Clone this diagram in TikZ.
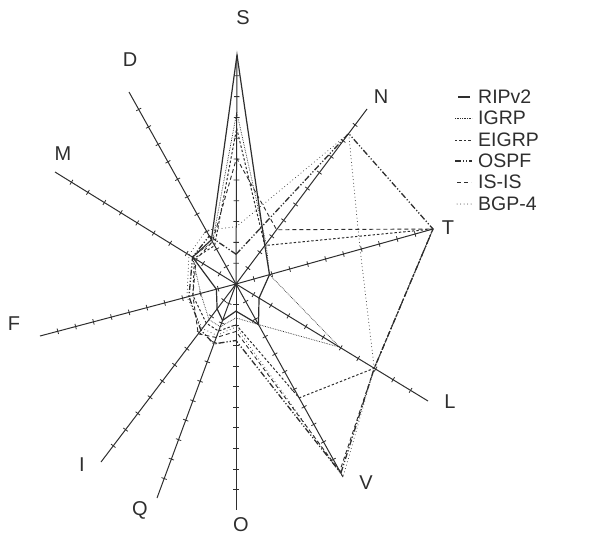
\documentclass[tikz,border=0pt]{standalone}
\usepackage{fontspec}
\setmainfont{Liberation Sans}
\usetikzlibrary{calc}
\definecolor{ink}{HTML}{2E2E2E}
\tikzset{
  axisline/.style={draw=ink, line width=1pt},
  tickline/.style={draw=ink, line width=0.8pt},
  lab/.style={font=\fontsize{20}{22}\selectfont, text=ink, inner sep=0pt},
  legtext/.style={font=\fontsize{19.5}{21}\selectfont, text=ink, anchor=west, inner sep=0pt},
  rip/.style={draw=ink, line width=1.2pt},
  igrp/.style={draw=ink, line width=0.7pt, dash pattern=on 0.7pt off 1pt},
  eigrp/.style={draw=ink, line width=1pt, dash pattern=on 2.4pt off 2pt},
  ospf/.style={draw=ink, line width=1.3pt, dash pattern=on 6pt off 2pt on 1.2pt off 2pt on 1.2pt off 2pt},
  isis/.style={draw=ink, line width=0.9pt, dash pattern=on 4pt off 3pt},
  bgp/.style={draw=ink, line width=1pt, line cap=round, dash pattern=on 0pt off 3.5pt},
}
\newcommand\radarseries[3]{%
  \foreach \ax/\f [count=\i] in {#3} {\coordinate (#1\i) at ($(C)!\f!(\ax)$);}
  \draw[#2] (#11) -- (#12) -- (#13) -- (#14) -- (#15) -- (#16) -- (#17) -- (#18) -- (#19) -- (#110) -- (#111) -- cycle;
}
\begin{document}
\begin{tikzpicture}[x=1pt,y=-1pt]
\useasboundingbox (0,0) rectangle (599,536);
\coordinate (C) at (236,284);
\coordinate (S) at (237,55);
\coordinate (N) at (367,109);
\coordinate (T) at (433,229);
\coordinate (L) at (428,401);
\coordinate (V) at (343,477);
\coordinate (O) at (236,510);
\coordinate (Q) at (157,498);
\coordinate (I) at (101,462);
\coordinate (F) at (40,336);
\coordinate (M) at (55,172);
\coordinate (D) at (129,92);
% axes with ticks
\foreach \a in {S,N,T,L,V,O,Q,I,F,M,D} {
  \draw[axisline] (C) -- (\a);
  \foreach \k in {1,...,10} {
    \coordinate (tk) at ($(C)!\k/11!(\a)$);
    \draw[tickline] ($(tk)!2.8pt!90:(\a)$) -- ($(tk)!2.8pt!-90:(\a)$);
  }
}
% series
\radarseries{r}{rip}{S/1.0,N/0.22,T/0.17,L/0.12,V/0.21,O/0.12,Q/0.17,I/0.14,F/0.10,M/0.24,D/0.23}
\radarseries{g}{igrp}{S/0.75,N/0.23,T/0.17,L/0.54,V/0.21,O/0.15,Q/0.20,I/0.20,F/0.18,M/0.24,D/0.22}
\radarseries{e}{eigrp}{S/0.68,N/0.22,T/1.0,L/0.72,V/0.59,O/0.18,Q/0.22,I/0.22,F/0.22,M/0.23,D/0.20}
\radarseries{o}{ospf}{S/0.13,N/0.86,T/1.0,L/0.72,V/0.98,O/0.25,Q/0.28,I/0.26,F/0.24,M/0.24,D/0.25}
\radarseries{s}{isis}{S/0.55,N/0.31,T/1.0,L/0.72,V/0.97,O/0.21,Q/0.25,I/0.28,F/0.22,M/0.22,D/0.22}
\radarseries{b}{bgp}{S/0.25,N/0.86,T/0.63,L/0.72,V/1.0,O/0.19,Q/0.24,I/0.25,F/0.25,M/0.26,D/0.28}
% axis labels
\node[lab] (lS) at (243,18) {S};
\node[lab] (lN) at (381,97) {N};
\node[lab] (lT) at (448,228) {T};
\node[lab] (lL) at (450,402) {L};
\node[lab] (lV) at (366,483) {V};
\node[lab] (lO) at (241,525) {O};
\node[lab] (lQ) at (140,510) {Q};
\node[lab] (lI) at (82,465) {I};
\node[lab] (lF) at (14,324) {F};
\node[lab] (lM) at (63,154) {M};
\node[lab] (lD) at (130,60) {D};
% legend
\draw[rip, line width=2.2pt] (458,97) -- (470,97);
\node[legtext] (k1) at (478,97) {RIPv2};
\draw[igrp] (455,118) -- (472,118);
\node[legtext] (k2) at (478,118) {IGRP};
\draw[eigrp] (455,140) -- (472,140);
\node[legtext] (k3) at (478,140) {EIGRP};
\draw[ospf] (455,161) -- (472,161);
\node[legtext] (k4) at (478,161) {OSPF};
\draw[isis] (457,182) -- (471,182);
\node[legtext] (k5) at (478,182) {IS-IS};
\draw[bgp] (457,204) -- (471,204);
\node[legtext] (k6) at (478,204) {BGP-4};
\end{tikzpicture}
\end{document}
